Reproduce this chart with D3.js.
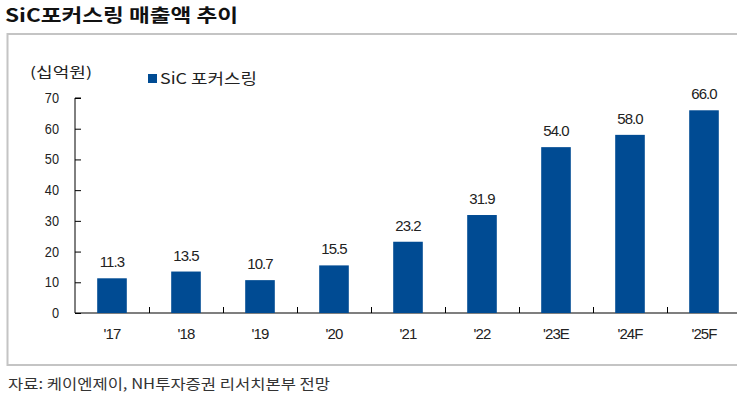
<!DOCTYPE html>
<html>
<head>
<meta charset="utf-8">
<script src="https://cdn.jsdelivr.net/npm/d3@7"></script>
<style>
  body { margin: 0; background: #fff; }
  svg { display: block; font-family: "Liberation Sans", Arial, "Noto Sans CJK KR", sans-serif; }
</style>
</head>
<body>
<svg id="chart" width="737" height="399"></svg>
<script>
// 데이터
var categories = ["'17", "'18", "'19", "'20", "'21", "'22", "'23E", "'24F", "'25F"];
var sales = [11.3, 13.5, 10.7, 15.5, 23.2, 31.9, 54.0, 58.0, 66.0];
var yTicks = [0, 10, 20, 30, 40, 50, 60, 70];

var svg = d3.select('#chart');
var korFont = '"Noto Sans CJK KR", sans-serif';

// 제목
svg.append('text').attr('x', 5).attr('y', 22)
  .attr('font-family', korFont).attr('font-weight', 'bold')
  .attr('font-size', 18).attr('fill', '#111')
  .attr('textLength', 233).attr('lengthAdjust', 'spacingAndGlyphs')
  .text('SiC포커스링 매출액 추이');

// 테두리
svg.append('path')
  .attr('d', 'M745,34 H7.5 V365 H745')
  .attr('fill', 'none').attr('stroke', '#c4c4c4').attr('stroke-width', 2);

var x = d3.scaleBand().domain(categories).range([75, 741]).paddingInner(0.6).paddingOuter(0.3);
var y = d3.scaleLinear().domain([0, 70]).range([313, 98]);

// y축
var yAxis = svg.append('g').attr('transform', 'translate(75,0)')
  .call(d3.axisRight(y).tickValues(yTicks).tickSize(6).tickFormat(''));
yAxis.select('.domain').attr('stroke', '#000').attr('d', 'M6,98 H0 V313');
yAxis.selectAll('.tick line').attr('stroke', '#000');

svg.append('g').selectAll('text').data(yTicks).enter().append('text')
  .attr('x', 59).attr('y', function(d) { return y(d) + 5; })
  .attr('text-anchor', 'end').attr('font-size', 15).attr('fill', '#222')
  .attr('transform', function(d) { return 'translate(59,' + (y(d) + 5) + ') scale(0.85,1) translate(-59,' + -(y(d) + 5) + ')'; })
  .text(function(d) { return d; });

// x축 (카테고리 경계 눈금)
var bounds = categories.slice(1).map(function(c) { return x(c) - x.step() * x.paddingInner() / 2; });
svg.append('line').attr('x1', 75).attr('x2', 741).attr('y1', 313).attr('y2', 313)
  .attr('stroke', '#000').attr('stroke-width', 1.2);
svg.append('g').selectAll('line').data(bounds).enter().append('line')
  .attr('x1', function(d) { return Math.round(d) + 0.5; })
  .attr('x2', function(d) { return Math.round(d) + 0.5; })
  .attr('y1', 307).attr('y2', 313).attr('stroke', '#000');

svg.append('g').selectAll('text').data(categories).enter().append('text')
  .attr('x', function(d) { return x(d) + x.bandwidth() / 2; })
  .attr('y', 339).attr('text-anchor', 'middle').attr('font-size', 15).attr('fill', '#222')
  .attr('letter-spacing', -0.9)
  .text(function(d) { return d; });

// 막대
svg.append('g').selectAll('rect').data(sales).enter().append('rect')
  .attr('x', function(d, i) { return x(categories[i]); })
  .attr('y', function(d) { return y(d); })
  .attr('width', x.bandwidth())
  .attr('height', function(d) { return y(0) - y(d); })
  .attr('fill', '#004b93');

// 값 라벨
svg.append('g').selectAll('text').data(sales).enter().append('text')
  .attr('x', function(d, i) { return x(categories[i]) + x.bandwidth() / 2; })
  .attr('y', function(d) { return y(d) - 11; })
  .attr('text-anchor', 'middle').attr('font-size', 15).attr('fill', '#222')
  .attr('letter-spacing', -0.9)
  .text(function(d) { return d.toFixed(1); });

// 단위, 범례
svg.append('text').attr('x', 30).attr('y', 77)
  .attr('font-family', korFont).attr('font-size', 14).attr('fill', '#222')
  .attr('textLength', 62).attr('lengthAdjust', 'spacingAndGlyphs')
  .text('(십억원)');
svg.append('rect').attr('x', 148).attr('y', 74).attr('width', 9).attr('height', 9).attr('fill', '#004b93');
svg.append('text').attr('x', 160).attr('y', 84)
  .attr('font-family', korFont).attr('font-size', 15).attr('fill', '#222')
  .attr('textLength', 97).attr('lengthAdjust', 'spacingAndGlyphs')
  .text('SiC 포커스링');

// 출처
svg.append('text').attr('x', 8).attr('y', 389)
  .attr('font-family', korFont).attr('font-size', 14).attr('fill', '#333')
  .attr('textLength', 322).attr('lengthAdjust', 'spacingAndGlyphs')
  .text('자료: 케이엔제이, NH투자증권 리서치본부 전망');
</script>
</body>
</html>
